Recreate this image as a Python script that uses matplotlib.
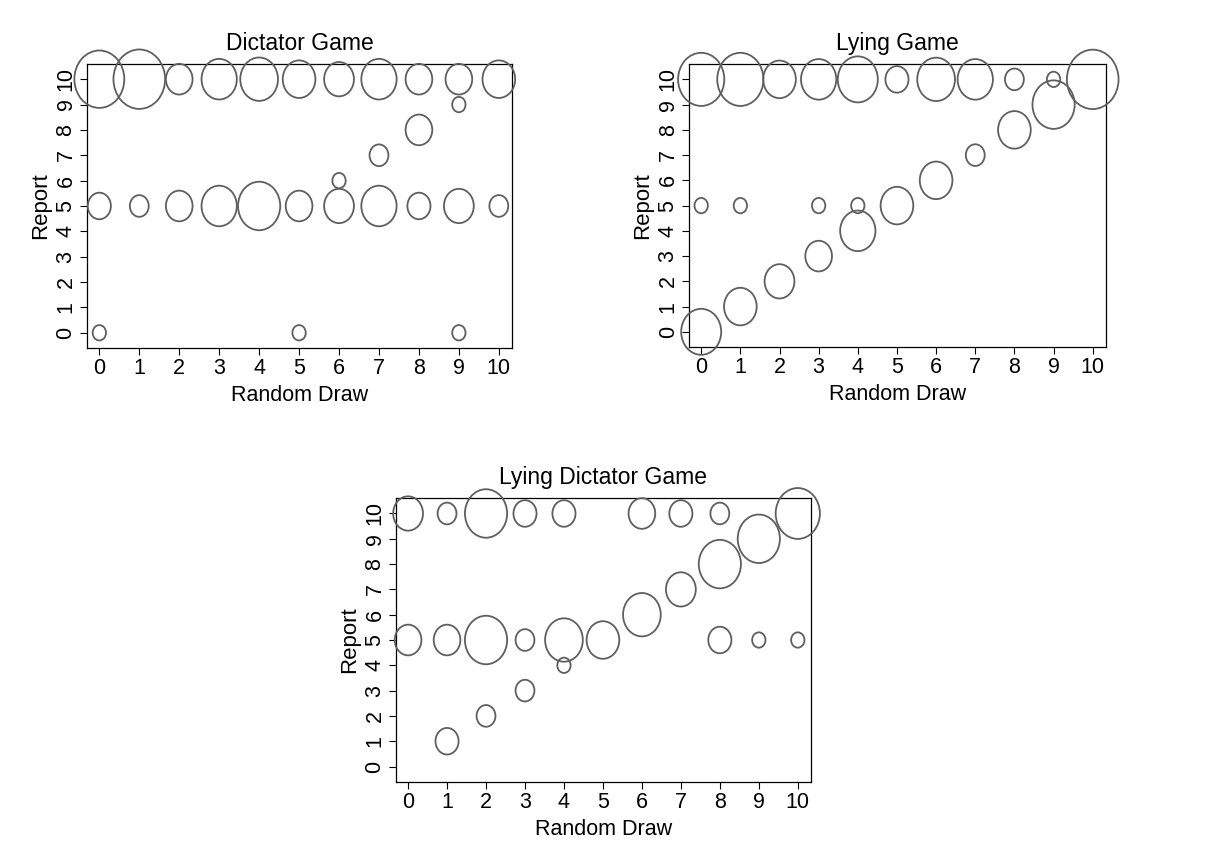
import numpy as np
import matplotlib
matplotlib.use("Agg")
import matplotlib.pyplot as plt
from matplotlib.path import Path

plt.rcParams['font.family'] = ['Liberation Sans', 'DejaVu Sans']

# (random draw, report, count) for each game
dg_draw = [0, 1, 2, 3, 4, 5, 6, 7, 8, 9, 10,
           9, 8, 7, 6,
           0, 1, 2, 3, 4, 5, 6, 7, 8, 9, 10,
           0, 5, 9]
dg_report = [10, 10, 10, 10, 10, 10, 10, 10, 10, 10, 10,
             9, 8, 7, 6,
             5, 5, 5, 5, 5, 5, 5, 5, 5, 5, 5,
             0, 0, 0]
dg_count = [14, 15, 4, 7, 8, 6, 5, 7, 4, 4, 6,
            1, 4, 2, 1,
            3, 2, 4, 7, 10, 4, 5, 7, 3, 5, 2,
            1, 1, 1]

lg_draw = [0, 1, 2, 3, 4, 5, 6, 7, 8, 9, 10,
           0, 1, 3, 4,
           0, 1, 2, 3, 4, 5, 6, 7, 8, 9]
lg_report = [10, 10, 10, 10, 10, 10, 10, 10, 10, 10, 10,
             5, 5, 5, 5,
             0, 1, 2, 3, 4, 5, 6, 7, 8, 9]
lg_count = [12, 12, 6, 7, 9, 3, 8, 7, 2, 1, 15,
            1, 1, 1, 1,
            9, 6, 5, 4, 7, 6, 6, 2, 6, 10]

ldg_draw = [0, 1, 2, 3, 4, 6, 7, 8, 10,
            0, 1, 2, 3, 4, 8, 9, 10,
            1, 2, 3, 4, 5, 6, 7, 8, 9]
ldg_report = [10, 10, 10, 10, 10, 10, 10, 10, 10,
              5, 5, 5, 5, 5, 5, 5, 5,
              1, 2, 3, 4, 5, 6, 7, 8, 9]
ldg_count = [5, 2, 10, 3, 3, 4, 3, 2, 11,
             4, 4, 10, 2, 8, 3, 1, 1,
             3, 2, 2, 1, 6, 8, 5, 10, 10]

# slightly tall circle, like the original export
circ = Path.unit_circle()
ellipse = Path(circ.vertices * np.array([1.0, 1.15]), circ.codes)

EDGE = '#5f5f5f'
UNIT = 122  # marker area (pt^2) per observation


def bubble(ax, x, y, n, title):
    ax.scatter(x, y, s=np.array(n) * UNIT, marker=ellipse, facecolors='none',
               edgecolors=EDGE, linewidths=1.3, clip_on=False, zorder=3)
    ax.set_xlim(-0.31, 10.33)
    ax.set_ylim(-0.6, 10.6)
    ax.set_xticks(range(11))
    ax.set_yticks(range(11))
    ax.tick_params(axis='both', direction='out', length=5, width=0.8,
                   labelsize=15.5, pad=2.5, colors='black')
    ax.tick_params(axis='y', labelrotation=90)
    for lab in ax.get_yticklabels():
        lab.set_va('center')
    for sp in ax.spines.values():
        sp.set_linewidth(0.9)
        sp.set_color('black')
    ax.set_xlabel('Random Draw', fontsize=15.5, labelpad=4)
    ax.set_ylabel('Report', fontsize=16, labelpad=3)
    ax.set_title(title, fontsize=16.5, pad=10)


fig = plt.figure(figsize=(12.11, 8.44), dpi=100)
ax1 = fig.add_axes([0.0718, 0.5877, 0.351, 0.3365])
ax2 = fig.add_axes([0.569, 0.5889, 0.344, 0.335])
ax3 = fig.add_axes([0.327, 0.0738, 0.3424, 0.3358])

bubble(ax1, dg_draw, dg_report, dg_count, 'Dictator Game')
bubble(ax2, lg_draw, lg_report, lg_count, 'Lying Game')
bubble(ax3, ldg_draw, ldg_report, ldg_count, 'Lying Dictator Game')

fig.savefig('out.png', dpi=100)
